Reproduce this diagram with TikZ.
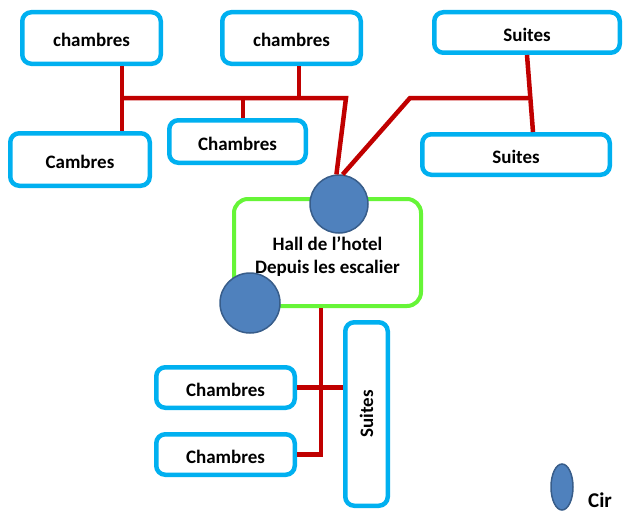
\documentclass[tikz,border=0pt]{standalone}
\usepackage{fontspec}
\setmainfont{Carlito}
\usetikzlibrary{positioning, shapes.geometric}
\definecolor{roomblue}{RGB}{0, 176, 240}
\definecolor{hallgreen}{RGB}{102, 245, 55}
\definecolor{linkred}{RGB}{192, 0, 0}
\definecolor{dotfill}{RGB}{79, 129, 189}
\definecolor{dotline}{RGB}{56, 93, 138}

\begin{document}
\begin{tikzpicture}[x=1pt, y=-1pt,
        room/.style={draw=roomblue, line width=4.5pt, rounded corners=9pt,
            fill=white, inner sep=0pt, align=center, text height=18pt, text depth=0pt,
            font=\bfseries\fontsize{19}{21}\selectfont},
        hallbox/.style={draw=hallgreen, line width=4pt, rounded corners=14pt,
            fill=white, inner sep=0pt},
        dot/.style={circle, draw=dotline, line width=1.5pt, fill=dotfill,
            inner sep=0pt},
        link/.style={draw=linkred, line width=4.5pt}
    ]
    \useasboundingbox (0, 0) rectangle (623, 511);

    % upper rooms
    \node[room, minimum width=138.5pt, minimum height=51.5pt] (ch1) at (91.5, 38) {chambres};
    \node[room, minimum width=138.5pt, minimum height=51.5pt] (ch2) at (291.5, 38) {chambres};
    \node[room, minimum width=139.5pt, minimum height=52.5pt] (cam) at (80, 159.5) {Cambres};
    \node[room, minimum width=136.5pt, minimum height=42.5pt] (ch3) at (237.5, 141.5) {Chambres};
    \node[room, minimum width=185.5pt, minimum height=40.5pt] (su1) at (527, 32.5) {Suites};
    \node[room, minimum width=187.5pt, minimum height=40.5pt] (su2) at (516, 154.5) {Suites};

    % hall
    \node[hallbox, minimum width=187pt, minimum height=107pt] (hall) at (327.5, 252.5) {};
    \node[align=center, inner sep=0pt, font=\bfseries\fontsize{19}{23}\selectfont,
        yshift=-4pt] (hallt) at (hall.center) {Hall de l’hotel\\Depuis les escalier};
    \node[dot, minimum size=58pt] (dtop) at (339, 204) {};
    \node[dot, minimum size=60pt] (dleft) at (250, 303) {};

    % lower rooms
    \node[room, minimum width=138.5pt, minimum height=40.5pt] (ch4) at (225.5, 387.5) {Chambres};
    \node[room, minimum width=138.5pt, minimum height=40.5pt] (ch5) at (225.5, 454.5) {Chambres};
    \node[room, minimum width=42.5pt, minimum height=183.5pt] (su3) at (366.5, 414) {};
    \node[rotate=90, font=\bfseries\fontsize{19}{21}\selectfont] (su3t) at (su3.center) {Suites};

    % legend
    \node[dot, ellipse, minimum width=22pt, minimum height=46pt] (key) at (562, 487) {};
    \node[anchor=base west, inner sep=0pt, font=\bfseries\fontsize{21}{23}\selectfont] (keyt) at (588, 507) {Cir};

    % junctions
    \coordinate (jl) at (122, 98);
    \coordinate (jm) at (346, 98);
    \coordinate (jr) at (410, 98);
    \coordinate (js) at (528, 98);
    \coordinate (j2) at (299, 98);
    \coordinate (j3) at (243, 98);
    \coordinate (jt) at (527, 98);
    \coordinate (ju) at (533, 98);
    \coordinate (jb) at (321, 388);
    \coordinate (jc) at (321, 454.5);

    \draw[link] (ch1.south -| jl) -- (cam.north -| jl);
    \draw[link] (jl) -- (jm) -- (dtop.95);
    \draw[link] (ch2.south -| j2) -- (j2);
    \draw[link] (j3) -- (ch3.north -| j3);
    \draw[link] (su1.south -| jt) -- (su2.north -| ju);
    \draw[link] (js) -- (jr) -- (dtop.83);
    \draw[link] (hall.south -| jb) -- (jc) -- (ch5.east);
    \draw[link] (ch4.east) -- (su3.west |- ch4.east);
\end{tikzpicture}
\end{document}
